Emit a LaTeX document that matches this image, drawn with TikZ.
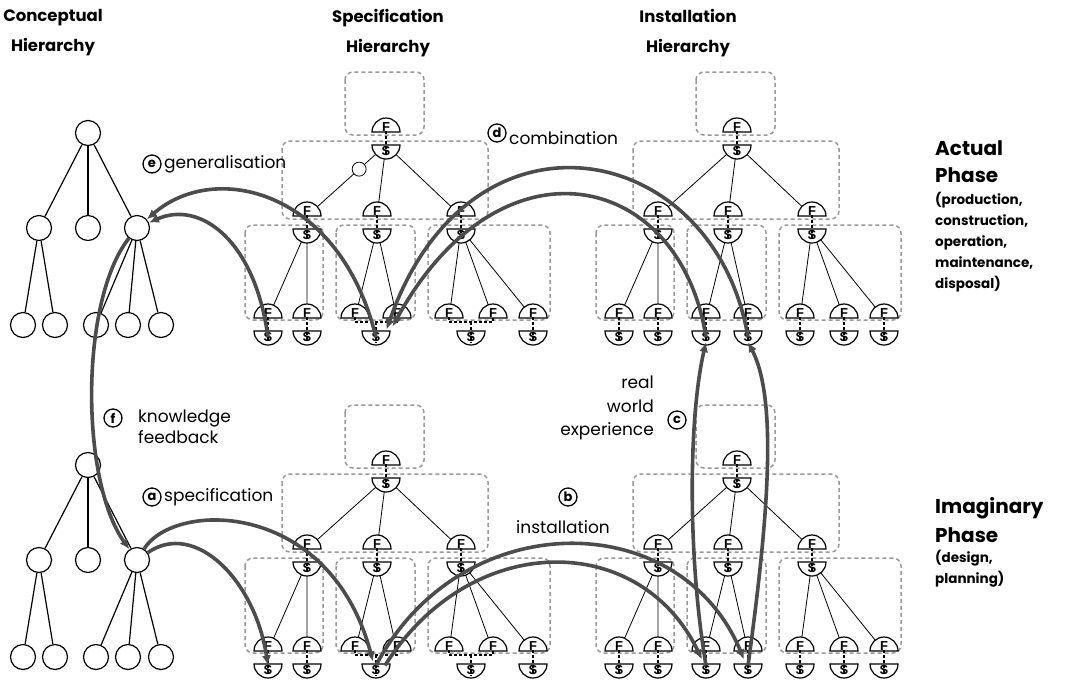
\documentclass[tikz,border=0pt]{standalone}
\usepackage{fontspec}
\setmainfont{Poppins}
\newfontfamily\symfont{Liberation Sans}
\usetikzlibrary{arrows.meta,calc}

\definecolor{boxgray}{gray}{0.6}
\definecolor{flowgray}{gray}{0.3}

\tikzset{
  box/.style={draw=boxgray, line width=1.5pt, dash pattern=on 4pt off 3pt, rounded corners=8pt},
  edge/.style={draw=black, line width=0.8pt},
  sym/.style={draw=black, fill=white, line width=1.2pt},
  symtxt/.style={font=\symfont\bfseries\fontsize{13}{13}\selectfont, inner sep=0pt},
  fslink/.style={draw=black, line width=1.8pt, dash pattern=on 3pt off 2pt},
  cnode/.style={circle, draw, fill=white, line width=1.2pt, minimum size=25pt, inner sep=0pt},
  cedge/.style={line width=1.2pt},
  knot/.style={circle, draw, fill=white, line width=0.8pt, minimum size=14pt, inner sep=0pt},
  flow/.style={draw=flowgray, line width=3.6pt, -{Latex[length=10pt,width=9pt]}},
  tag/.style={circle, draw, line width=1.3pt, minimum size=18pt, inner sep=0pt,
    font=\bfseries\fontsize{13}{13}\selectfont},
  lbl/.style={font=\fontsize{17}{23.5}\selectfont, inner sep=0pt},
  head/.style={font=\bfseries\fontsize{16.5}{30}\selectfont, align=center, inner sep=0pt},
  phasehead/.style={font=\bfseries\fontsize{20}{27}\selectfont, inner sep=0pt},
  phasesub/.style={font=\bfseries\fontsize{13.5}{21}\selectfont, align=left, inner sep=0pt},
}

% function half (dome up) and structure half (dome down), #1 = chord centre
\newcommand\Fsym[1]{%
  \filldraw[sym] ([xshift=-14pt]#1) arc[start angle=180,end angle=0,radius=14pt] -- cycle;
  \node[symtxt, anchor=base] (#1-t) at ([yshift=1pt]#1) {F};}
\newcommand\Ssym[1]{%
  \filldraw[sym] ([xshift=-14pt]#1) arc[start angle=180,end angle=360,radius=14pt] -- cycle;
  \node[symtxt, anchor=north] (#1-t) at ([yshift=-1.5pt]#1) {S};}

% common part of a specification / installation hierarchy
\newcommand\hierbase[3]{% #1 prefix, #2 root x, #3 root F chord y
  \coordinate (#1rF) at (#2,#3);
  \coordinate (#1rS) at (#2,#3+13);
  \foreach \k/\dx in {1/-79,2/-9,3/75}{
    \coordinate (#1mF\k) at ({#2+\dx},{#3+84});
    \coordinate (#1mS\k) at ({#2+\dx},{#3+97});}
  \foreach \k/\dx in {1/-118,2/-79,3/-31,4/11,5/63,6/107,7/147}
    \coordinate (#1bF\k) at ({#2+\dx},{#3+186});
  \draw[box] (#2-41,#3-60) rectangle (#2+38,#3+3);
  \draw[box] (#2-104,#3+9) rectangle (#2+102,#3+87);
  \draw[box] (#2-141,#3+93) rectangle (#2-63,#3+188);
  \draw[box] (#2-50,#3+93) rectangle (#2+29,#3+188);
  \draw[box] (#2+42,#3+93) rectangle (#2+164,#3+188);
  \foreach \k in {1,2,3} \draw[edge] (#1rS) -- (#1mF\k);
  \draw[edge] (#1mS1) -- (#1bF1) (#1mS1) -- (#1bF2)
              (#1mS2) -- (#1bF3) (#1mS2) -- (#1bF4)
              (#1mS3) -- (#1bF5) (#1mS3) -- (#1bF6) (#1mS3) -- (#1bF7);
  \Fsym{#1rF}\Ssym{#1rS}
  \foreach \k in {1,2,3}{\Fsym{#1mF\k}\Ssym{#1mS\k}}
  \foreach \k in {1,...,7}{\Fsym{#1bF\k}}
  \draw[fslink] (#1rF-t.south) -- (#1rS-t.south);
  \foreach \k in {1,2,3} \draw[fslink] (#1mF\k-t.south) -- (#1mS\k-t.south);
}

% specification leaves: two pairs of functions share one structure
\newcommand\specfoot[3]{%
  \foreach \k/\dx in {1/-118,2/-79,3/-10,4/85,5/147}
    \coordinate (#1bS\k) at ({#2+\dx},{#3+199});
  \coordinate (#1j3) at (#2-10,#3+190);
  \coordinate (#1j4) at (#2+85,#3+190);
  \foreach \k in {1,...,5}{\Ssym{#1bS\k}}
  \draw[fslink] (#1bF1-t.south) -- (#1bS1-t.south);
  \draw[fslink] (#1bF2-t.south) -- (#1bS2-t.south);
  \draw[fslink] (#1bF3-t.south) |- (#1j3) -| (#1bF4-t.south);
  \draw[fslink] (#1j3) -- (#1bS3-t.south);
  \draw[fslink] (#1bF5-t.south) |- (#1j4) -| (#1bF6-t.south);
  \draw[fslink] (#1j4) -- (#1bS4-t.south);
  \draw[fslink] (#1bF7-t.south) -- (#1bS5-t.south);
}

% installation leaves: one structure per function
\newcommand\instfoot[1]{%
  \foreach \k in {1,...,7}{
    \coordinate (#1bS\k) at ([yshift=-13pt]#1bF\k);
    \Ssym{#1bS\k}
    \draw[fslink] (#1bF\k-t.south) -- (#1bS\k-t.south);}
}

% conceptual tree
\newcommand\ctree[2]{% #1 prefix, #2 root y
  \node[cnode] (#1r) at (88,#2) {};
  \node[cnode] (#1m1) at (39,#2+95) {};
  \node[cnode] (#1m2) at (88,#2+95) {};
  \node[cnode] (#1m3) at (137,#2+95) {};
  \foreach \k/\xx in {1/23,2/55,3/96,4/128,5/161}
    \node[cnode] (#1b\k) at (\xx,#2+192) {};
  \foreach \k in {1,2,3} \draw[cedge] (#1r) -- (#1m\k);
  \draw[cedge] (#1m1) -- (#1b1) (#1m1) -- (#1b2)
               (#1m3) -- (#1b3) (#1m3) -- (#1b4) (#1m3) -- (#1b5);
}

\begin{document}
\begin{tikzpicture}[x=1pt,y=-1pt]
\useasboundingbox (0,0) rectangle (1065,681);
\fill[white] (0,0) rectangle (1065,681);

% column headings
\node[head] (hc) at (53,33) {Conceptual\\Hierarchy};
\node[head] (hs) at (388,33) {Specification\\Hierarchy};
\node[head] (hi) at (688,33) {Installation\\Hierarchy};

% phase headings
\node[phasehead, anchor=west] (pa1) at (935,148) {Actual};
\node[phasehead, anchor=west] (pa2) at (935,175) {Phase};
\node[phasesub, anchor=north west] (pa3) at (935,192)
  {(production,\\construction,\\operation,\\maintenance,\\disposal)};
\node[phasehead, anchor=west] (pi1) at (935,508) {Imaginary};
\node[phasehead, anchor=west] (pi2) at (935,535) {Phase};
\node[phasesub, anchor=north west] (pi3) at (935,550) {(design,\\planning)};

% conceptual hierarchies
\ctree{cu}{133}
\ctree{cl}{465}

% specification and installation hierarchies
\hierbase{uS}{386}{132}
\specfoot{uS}{386}{132}
\node[knot] (uSknot) at ($(uSrS)!0.34!(uSmF1)$) {};
\hierbase{uI}{737}{132}
\instfoot{uI}
\hierbase{lS}{386}{465}
\specfoot{lS}{386}{465}
\hierbase{lI}{737}{465}
\instfoot{lI}

% process labels
\node[tag] (ta) at (152,497) {a};
\node[lbl, anchor=west] (la) at (164,497) {specification};
\node[tag] (tb) at (568,497) {b};
\node[lbl] (lb) at (563,527) {installation};
\node[tag] (tc) at (677,420) {c};
\node[lbl, align=right, anchor=east] (lc) at (654,408) {real\\world\\experience};
\node[tag] (td) at (497,133) {d};
\node[lbl, anchor=west] (ld) at (509,138) {combination};
\node[tag] (te) at (152,164) {e};
\node[lbl, anchor=west] (le) at (164,164) {generalisation};
\node[tag] (tf) at (113,418) {f};
\node[lbl, anchor=west] (lf1) at (138,418) {knowledge};
\node[lbl, anchor=west] (lf2) at (138,437) {feedback};

% (e) generalisation
\draw[flow] (uSbS3-t.center) .. controls (340,190) and (215,160) .. (cum3);
\draw[flow] (uSbS1-t.center) .. controls (255,240) and (200,200) .. (cum3);
% (d) combination
\draw[flow] (uIbS4-t.center) .. controls (715,140) and (470,90) ..
  ([xshift=6pt,yshift=3pt]uSbS3-t.north east);
\draw[flow] (uIbS3-t.center) .. controls (680,170) and (500,130) ..
  ([xshift=12pt,yshift=6pt]uSbS3-t.north east);
% (c) real world experience
\draw[flow] (lIbS3-t.north) .. controls (688,560) and (688,420) .. (uIbS3-t.south);
\draw[flow] (lIbS4-t.north) .. controls (768,520) and (778,400) .. (uIbS4-t.south);
% (b) installation
\draw[flow] (lSbS3-t.north) .. controls (460,505) and (680,505) ..
  ([xshift=-4pt,yshift=6pt]lIbS4-t.north);
\draw[flow] ([xshift=9pt]lSbS3-t.north) .. controls (470,530) and (640,530) ..
  ([xshift=-4pt,yshift=6pt]lIbS3-t.north);
% (a) specification
\draw[flow] (clm3) .. controls (175,500) and (330,500) ..
  ([xshift=-3pt,yshift=4pt]lSbS3-t.north);
\draw[flow] (clm3) .. controls (195,520) and (255,580) .. (lSbS1-t.north);
% (f) knowledge feedback
\draw[flow] (cum3) .. controls (80,300) and (80,480) .. (clm3);
\end{tikzpicture}
\end{document}
